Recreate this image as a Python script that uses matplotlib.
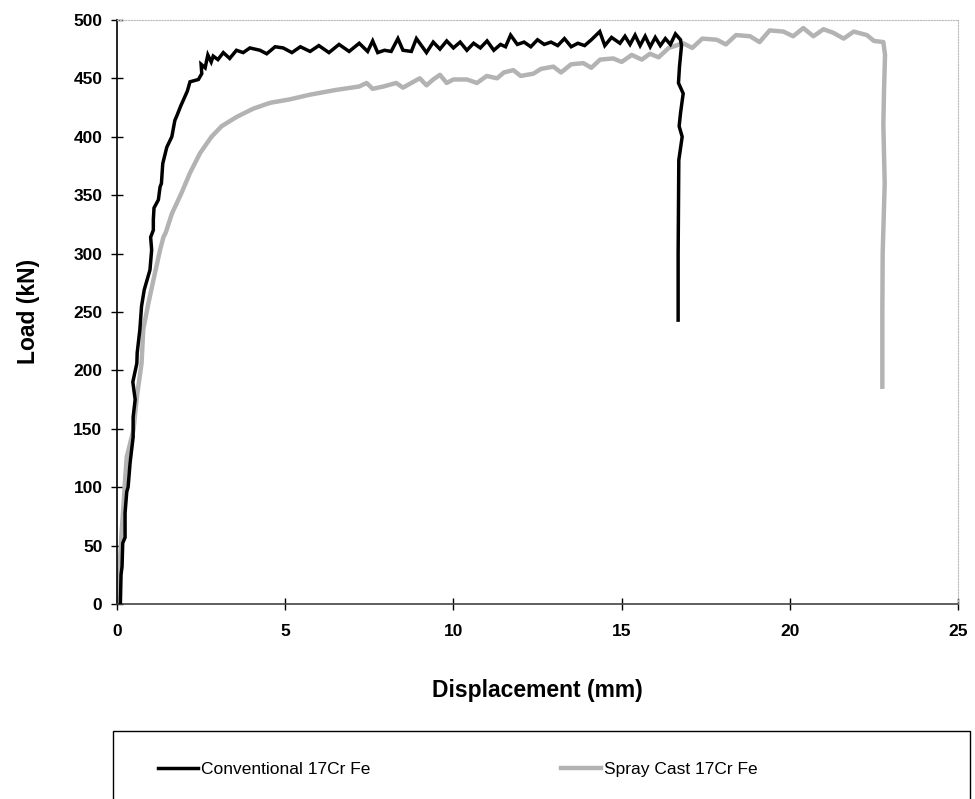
import matplotlib
matplotlib.use('Agg')
import matplotlib.pyplot as plt
from matplotlib.patches import Rectangle

plt.rcParams['font.family'] = ['Liberation Sans', 'DejaVu Sans']

# Conventional 17Cr Fe - displacement (mm), load (kN)
conv_x = [0.10, 0.12, 0.15, 0.17, 0.24, 0.24, 0.29, 0.33, 0.39, 0.48, 0.48, 0.54, 0.47, 0.59,
          0.60, 0.68, 0.73, 0.81, 0.98, 1.03, 1.00, 1.08, 1.08, 1.10, 1.23, 1.28, 1.32, 1.36,
          1.48, 1.63, 1.72, 1.78, 1.89, 2.09, 2.17, 2.42, 2.52, 2.50, 2.62, 2.70, 2.80, 2.86,
          3.00, 3.16, 3.35, 3.55, 3.75, 3.95, 4.25, 4.45, 4.70, 4.94, 5.20, 5.45, 5.74,
          6.0, 6.3, 6.6, 6.9, 7.2, 7.45, 7.6, 7.75, 7.95, 8.15, 8.35, 8.5, 8.75, 8.9, 9.05,
          9.2, 9.4, 9.6, 9.8, 10.0, 10.2, 10.4, 10.6, 10.8, 11.0, 11.2, 11.4, 11.55, 11.7,
          11.9, 12.1, 12.3, 12.5, 12.7, 12.9, 13.1, 13.3, 13.5, 13.7, 13.9, 14.1, 14.35, 14.5,
          14.7, 14.95, 15.1, 15.25, 15.4, 15.55, 15.7, 15.85, 16.0, 16.15, 16.3, 16.45, 16.6,
          16.75, 16.78, 16.72, 16.69, 16.83, 16.75, 16.71, 16.80, 16.70, 16.68, 16.68]
conv_y = [0, 25, 32, 52, 57, 78, 96, 100, 121, 143, 160, 175, 190, 206,
          215, 235, 255, 269, 286, 303, 314, 320, 329, 339, 346, 357, 360, 377,
          391, 400, 414, 418, 426, 439, 447, 449, 454, 462, 459, 470, 464, 469,
          466, 472, 467, 474, 472, 476, 474, 471, 477, 476, 472, 477, 473,
          478, 472, 479, 473, 480, 473, 482, 472, 474, 473, 484, 474, 473, 484, 478,
          472, 481, 475, 482, 476, 481, 474, 480, 476, 482, 474, 479, 477, 487,
          479, 481, 477, 483, 479, 481, 478, 484, 477, 480, 478, 483, 490, 478,
          485, 480, 486, 479, 487, 478, 486, 477, 485, 478, 484, 479, 488,
          483, 478, 460, 446, 437, 420, 409, 400, 380, 300, 243]

# Spray Cast 17Cr Fe
spray_x = [0.00, 0.00, 0.04, 0.10, 0.14, 0.19, 0.24, 0.29, 0.49, 0.59, 0.73, 0.78, 0.93, 1.08,
           1.28, 1.38, 1.45, 1.63, 1.92, 2.17, 2.47, 2.81, 3.11, 3.56, 4.05, 4.55, 5.14, 5.74,
           6.5, 7.2, 7.42, 7.6, 7.92, 8.3, 8.5, 8.81, 9.0, 9.2, 9.4, 9.6, 9.8, 10.0, 10.4,
           10.7, 10.99, 11.3, 11.5, 11.78, 12.0, 12.38, 12.6, 12.97, 13.2, 13.5, 13.86, 14.1,
           14.36, 14.75, 15.0, 15.3, 15.6, 15.84, 16.1, 16.4, 16.83, 17.1, 17.4, 17.83, 18.1,
           18.4, 18.82, 19.1, 19.4, 19.81, 20.1, 20.4, 20.7, 21.0, 21.29, 21.6, 21.9, 22.29,
           22.5, 22.78, 22.83, 22.8, 22.78, 22.82, 22.76, 22.75, 22.75]
spray_y = [0, 6, 20, 43, 63, 83, 106, 126, 149, 177, 206, 235, 257, 277,
           303, 314, 318, 334, 352, 369, 386, 400, 409, 417, 424, 429, 432, 436,
           440, 443, 446, 441, 443, 446, 442, 447, 450, 444, 449, 453, 446, 449, 449,
           446, 452, 450, 455, 457, 452, 454, 458, 460, 455, 462, 463, 459,
           466, 467, 464, 470, 466, 471, 468, 476, 480, 476, 484, 483, 479,
           487, 486, 481, 491, 490, 486, 493, 486, 492, 489, 484, 490, 487,
           482, 481, 470, 440, 410, 360, 300, 250, 186]

x_ticks = [0, 5, 10, 15, 20, 25]
y_ticks = [0, 50, 100, 150, 200, 250, 300, 350, 400, 450, 500]

fig = plt.figure(figsize=(9.75, 7.99), dpi=100)
ax = fig.add_axes([0.12, 0.2441, 0.8626, 0.731])

l1, = ax.plot(conv_x, conv_y, color='black', lw=2.5, solid_joinstyle='miter',
              label='Conventional 17Cr Fe', zorder=3)
l2, = ax.plot(spray_x, spray_y, color='#b3b3b3', lw=3.2,
              label='Spray Cast 17Cr Fe', zorder=2)

ax.set_xlim(0, 25)
ax.set_ylim(0, 500)
ax.set_xticks(x_ticks)
ax.set_yticks(y_ticks)
ax.tick_params(direction='inout', length=9, width=1, labelsize=12.5, colors='black')
ax.tick_params(axis='x', pad=10)
ax.tick_params(axis='y', pad=6)
for lab in ax.get_xticklabels() + ax.get_yticklabels():
    lab.set_fontweight('bold')

ax.spines['left'].set_color('black')
ax.spines['left'].set_linewidth(1.2)
ax.spines['bottom'].set_color('#444444')
ax.spines['bottom'].set_linewidth(1.2)
for s in ['top', 'right']:
    ax.spines[s].set_color('#bbbbbb')
    ax.spines[s].set_linewidth(0.8)
    ax.spines[s].set_linestyle((0, (1, 1.5)))

ax.set_xlabel('Displacement (mm)', fontsize=16.5, fontweight='bold', labelpad=29)
ax.set_ylabel('Load (kN)', fontsize=16.5, fontweight='bold', labelpad=24)

# legend box at the bottom
fig.patches.append(Rectangle((113 / 975, -0.01), (970 - 113) / 975, 0.095,
                             transform=fig.transFigure, fill=False,
                             edgecolor='black', lw=1))
fig.legend(handles=[l1, l2], loc='center left', bbox_to_anchor=(146 / 975, 1 - 769 / 799),
           ncol=2, frameon=False, fontsize=12.5, handlelength=2.3,
           handletextpad=0.15, columnspacing=11.0, borderpad=0.2)

fig.savefig('out.png', dpi=100)
